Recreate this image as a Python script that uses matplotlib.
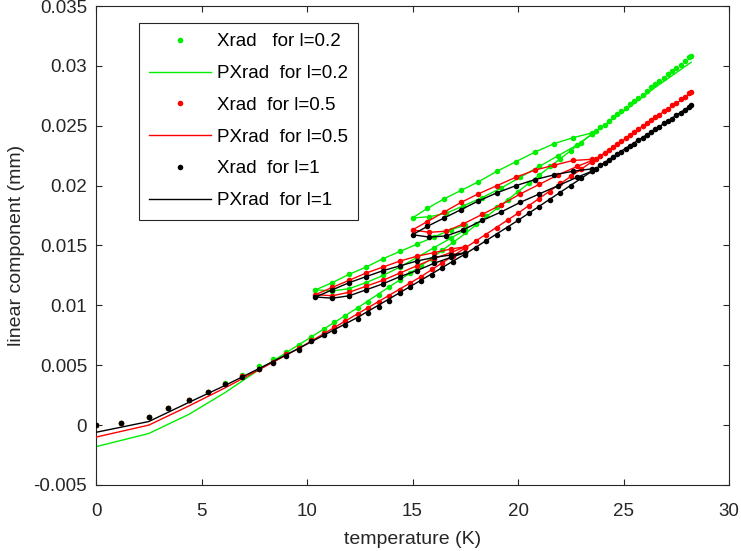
import matplotlib.pyplot as plt

plt.rcParams['font.family'] = ['Liberation Sans', 'DejaVu Sans']

# main heating run (temperature, K)
T_main = [0, 1.2, 2.5, 3.4, 4.4, 5.3, 6.1, 6.9, 7.7, 8.4, 9.0, 9.6, 10.2, 10.8, 11.3, 11.8,
          12.4, 12.9, 13.4, 13.9, 14.4, 14.9, 15.4, 15.9, 16.4, 16.9, 17.5, 18.0, 18.5, 19.0,
          19.5, 20.0, 20.5, 21.0, 21.5, 22.0, 22.5, 23.0, 23.5, 23.7, 23.9, 24.1, 24.3, 24.5,
          24.7, 24.9, 25.1, 25.3, 25.5, 25.7, 25.9, 26.1, 26.3, 26.5, 26.7, 26.9, 27.1, 27.3,
          27.5, 27.7, 27.9, 28.1, 28.2]
xrad_02 = [0.0000, 0.0002, 0.0007, 0.0014, 0.0021, 0.0028, 0.0035, 0.0042, 0.0049, 0.0055,
           0.0061, 0.0067, 0.0074, 0.0080, 0.0086, 0.0091, 0.0098, 0.0103, 0.0109, 0.0115,
           0.0121, 0.0127, 0.0133, 0.0139, 0.0146, 0.0153, 0.0161, 0.0168, 0.0175, 0.0182,
           0.0188, 0.0195, 0.0202, 0.0209, 0.0216, 0.0222, 0.0229, 0.0236, 0.0243, 0.0246,
           0.0249, 0.0251, 0.0254, 0.0257, 0.0260, 0.0262, 0.0265, 0.0268, 0.0271, 0.0273,
           0.0276, 0.0279, 0.0282, 0.0285, 0.0287, 0.0290, 0.0293, 0.0296, 0.0298, 0.0301,
           0.0304, 0.0307, 0.0308]
xrad_05 = [0.0000, 0.0002, 0.0007, 0.0014, 0.0021, 0.0028, 0.0034, 0.0041, 0.0047, 0.0053,
           0.0059, 0.0064, 0.0071, 0.0077, 0.0082, 0.0087, 0.0093, 0.0098, 0.0103, 0.0108,
           0.0113, 0.0119, 0.0124, 0.0130, 0.0135, 0.0141, 0.0148, 0.0154, 0.0159, 0.0165,
           0.0171, 0.0177, 0.0183, 0.0189, 0.0195, 0.0202, 0.0208, 0.0214, 0.0220, 0.0222,
           0.0225, 0.0227, 0.0230, 0.0232, 0.0235, 0.0237, 0.0240, 0.0242, 0.0245, 0.0247,
           0.0250, 0.0252, 0.0255, 0.0257, 0.0259, 0.0262, 0.0264, 0.0267, 0.0269, 0.0272,
           0.0274, 0.0277, 0.0278]
xrad_1 = [0.0000, 0.0002, 0.0007, 0.0014, 0.0021, 0.0028, 0.0034, 0.0040, 0.0047, 0.0052,
          0.0058, 0.0063, 0.0070, 0.0075, 0.0079, 0.0084, 0.0089, 0.0094, 0.0099, 0.0104,
          0.0110, 0.0115, 0.0120, 0.0125, 0.0131, 0.0136, 0.0142, 0.0148, 0.0154, 0.0159,
          0.0165, 0.0171, 0.0177, 0.0182, 0.0188, 0.0194, 0.0200, 0.0206, 0.0212, 0.0214,
          0.0217, 0.0219, 0.0221, 0.0224, 0.0226, 0.0228, 0.0231, 0.0233, 0.0235, 0.0238,
          0.0240, 0.0242, 0.0245, 0.0247, 0.0249, 0.0252, 0.0254, 0.0256, 0.0259, 0.0261,
          0.0263, 0.0266, 0.0267]

# first minor loop (cool 17.5 -> 10.4, heat back to 17.5)
T_loop1 = [17.5, 16.8, 16.0, 15.2, 14.4, 13.6, 12.8, 12.0, 11.2, 10.4,
           11.2, 12.0, 12.8, 13.6, 14.4, 15.2, 16.0, 16.8, 17.5]
loop1_02 = [0.0167, 0.0163, 0.0157, 0.0151, 0.0145, 0.0139, 0.0132, 0.0126, 0.0119, 0.0113,
            0.0112, 0.0114, 0.0119, 0.0125, 0.0132, 0.0140, 0.0148, 0.0156, 0.0163]
loop1_05 = [0.0149, 0.0147, 0.0144, 0.0141, 0.0137, 0.0132, 0.0127, 0.0121, 0.0115, 0.0109,
            0.0108, 0.0111, 0.0116, 0.0121, 0.0127, 0.0133, 0.0139, 0.0144, 0.0149]
loop1_1 = [0.0144, 0.0142, 0.0140, 0.0137, 0.0133, 0.0129, 0.0124, 0.0119, 0.0113, 0.0107,
           0.0106, 0.0108, 0.0113, 0.0118, 0.0124, 0.0129, 0.0135, 0.0140, 0.0144]

# second minor loop (cool 23.5 -> 15, heat back to 23.5)
T_loop2 = [23.5, 22.6, 21.7, 20.8, 19.9, 19.0, 18.1, 17.3, 16.5, 15.7, 15.0,
           15.8, 16.6, 17.4, 18.3, 19.2, 20.1, 21.0, 21.9, 22.8, 23.5]
loop2_02 = [0.0244, 0.0240, 0.0235, 0.0228, 0.0220, 0.0212, 0.0203, 0.0196, 0.0189, 0.0181, 0.0173,
            0.0174, 0.0177, 0.0183, 0.0190, 0.0198, 0.0207, 0.0216, 0.0225, 0.0234, 0.0243]
loop2_05 = [0.0222, 0.0221, 0.0217, 0.0213, 0.0207, 0.0200, 0.0193, 0.0186, 0.0178, 0.0170, 0.0163,
            0.0161, 0.0162, 0.0168, 0.0176, 0.0184, 0.0193, 0.0201, 0.0209, 0.0216, 0.0221]
loop2_1 = [0.0214, 0.0212, 0.0209, 0.0205, 0.0200, 0.0194, 0.0187, 0.0180, 0.0173, 0.0166, 0.0159,
           0.0157, 0.0158, 0.0163, 0.0171, 0.0178, 0.0186, 0.0193, 0.0200, 0.0207, 0.0212]

# predicted curve along the main run
T_px = [0, 2.5, 4.4, 6.1, 7.7, 9.6, 12.4, 15.4, 17.5, 20.0, 23.5, 25.0, 26.5, 28.2]
pxrad_02 = [-0.0018, -0.0007, 0.0009, 0.0027, 0.0046, 0.0067, 0.0098, 0.0133, 0.0160, 0.0195,
            0.0243, 0.0262, 0.0282, 0.0303]
pxrad_05 = [-0.0010, 0.0000, 0.0016, 0.0031, 0.0046, 0.0064, 0.0093, 0.0124, 0.0148, 0.0177,
            0.0220, 0.0238, 0.0257, 0.0277]
pxrad_1 = [-0.0006, 0.0003, 0.0019, 0.0033, 0.0047, 0.0064, 0.0090, 0.0121, 0.0143, 0.0171,
           0.0212, 0.0230, 0.0247, 0.0267]

series = [
    ('#00ee00', xrad_02, loop1_02, loop2_02, pxrad_02, 'Xrad   for l=0.2', 'PXrad  for l=0.2'),
    ('#ff0000', xrad_05, loop1_05, loop2_05, pxrad_05, 'Xrad  for l=0.5', 'PXrad  for l=0.5'),
    ('#000000', xrad_1, loop1_1, loop2_1, pxrad_1, 'Xrad  for l=1', 'PXrad  for l=1'),
]

fig = plt.figure(figsize=(7.41, 5.51), dpi=100)
ax = fig.add_axes([0.1296, 0.1198, 0.8543, 0.8693])

handles = []
for i, (c, xm, x1, x2, px, lab_x, lab_px) in enumerate(series):
    z = 2 + i
    kw = dict(ls='none', marker='o', ms=4.0, mec='none', mfc=c, zorder=z)
    hd, = ax.plot(T_main, xm, **kw)
    ax.plot(T_loop1, x1, **kw)
    ax.plot(T_loop2, x2, **kw)
    hl, = ax.plot(T_px, px, color=c, lw=1.0, zorder=z)
    ax.plot(T_loop1, x1, color=c, lw=1.0, zorder=z)
    ax.plot(T_loop2, x2, color=c, lw=1.0, zorder=z)
    hd.set_label(lab_x)
    hl.set_label(lab_px)
    handles += [hd, hl]

ax.set_xlim(0, 30)
ax.set_ylim(-0.005, 0.035)
ax.set_xticks([0, 5, 10, 15, 20, 25, 30])
yt = [-0.005, 0, 0.005, 0.01, 0.015, 0.02, 0.025, 0.03, 0.035]
ax.set_yticks(yt)
ax.set_yticklabels(['-0.005', '0', '0.005', '0.01', '0.015', '0.02', '0.025', '0.03', '0.035'])

axc = '#262626'
for s in ax.spines.values():
    s.set_color(axc)
    s.set_linewidth(0.8)
ax.tick_params(direction='in', length=4.5, width=0.8, colors=axc, labelsize=13.5,
               top=True, right=True)
ax.tick_params(axis='x', pad=13)
ax.tick_params(axis='y', pad=6.5)

ax.set_xlabel('temperature (K)', fontsize=14, color=axc, labelpad=8)
ax.set_ylabel('linear component (mm)', fontsize=14, color=axc, labelpad=6)

leg = ax.legend(handles=handles, loc='upper left', bbox_to_anchor=(0.068, 0.9645),
                borderaxespad=0, fontsize=13.5, numpoints=1, handlelength=3.3,
                handletextpad=0.3, labelspacing=0.78, borderpad=0.55,
                fancybox=False, framealpha=1, edgecolor=axc, markerscale=1.0)
leg.get_frame().set_linewidth(0.8)

fig.savefig('out.png', dpi=100)
